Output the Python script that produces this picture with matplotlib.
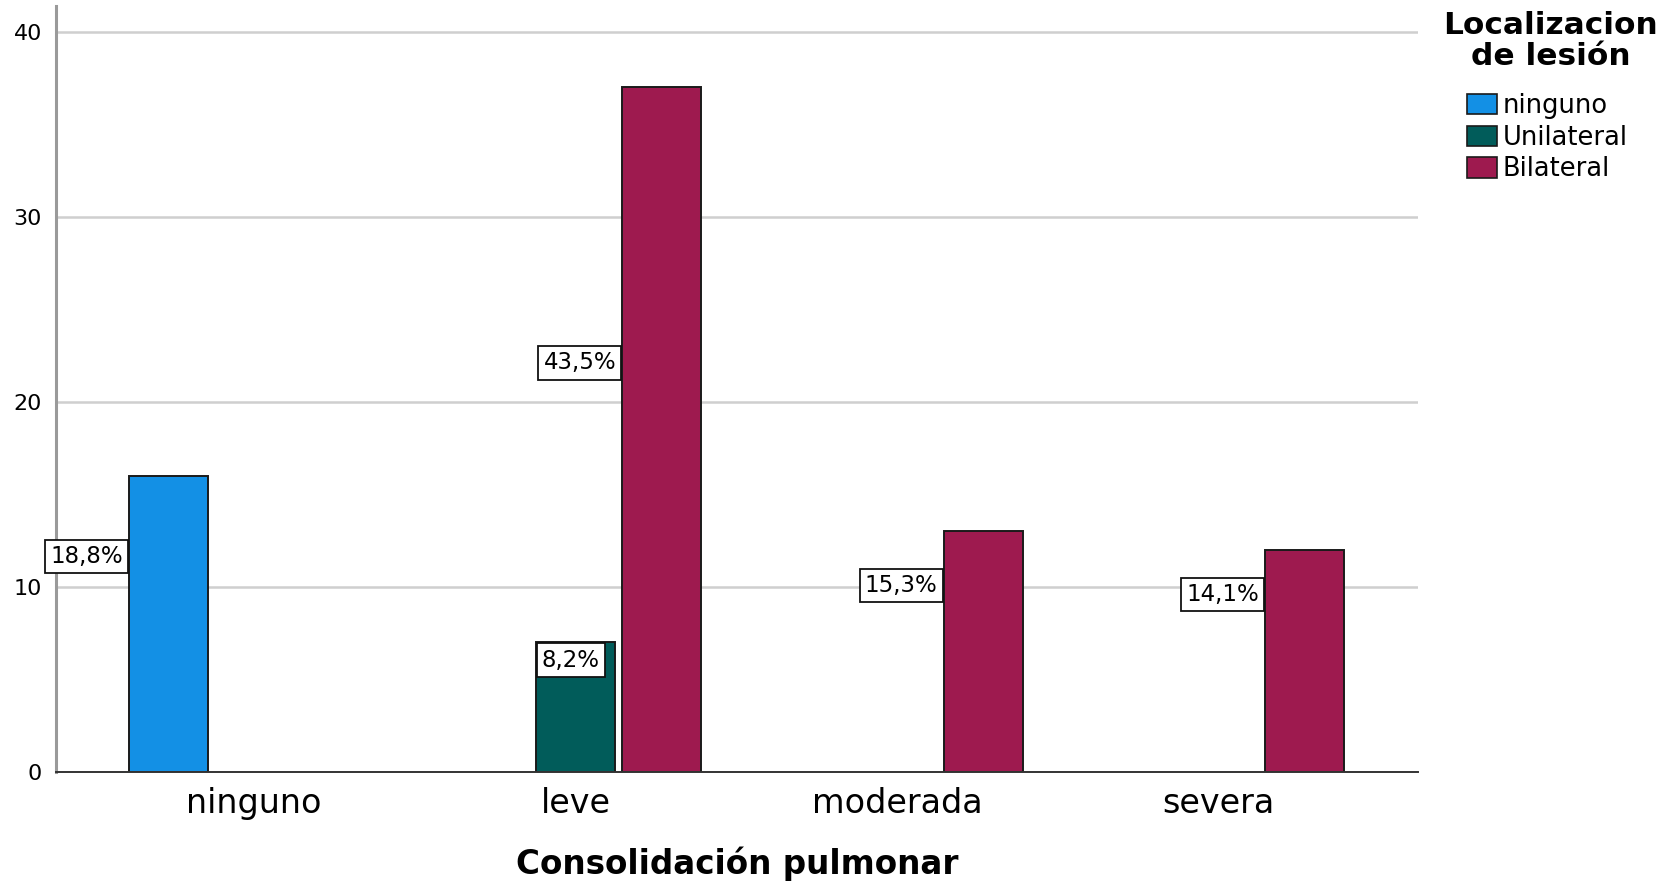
import matplotlib
matplotlib.use("Agg")
import matplotlib.pyplot as plt
from matplotlib.patches import Patch

# Data: counts per pulmonary consolidation grade and lesion location
categories = ["ninguno", "leve", "moderada", "severa"]
series = ["ninguno", "Unilateral", "Bilateral"]
counts = {
    "ninguno":    [16, 0, 0, 0],
    "Unilateral": [0, 7, 0, 0],
    "Bilateral":  [0, 37, 13, 12],
}
y_ticks = [0, 10, 20, 30, 40]
legend_title = ["Localizacion", "de lesión"]

# Styling
colors = {"ninguno": "#1390E5", "Unilateral": "#015C5A", "Bilateral": "#9E1A4F"}
bar_width = 0.2456
slot = 0.267
offsets = {"ninguno": -slot, "Unilateral": 0.0, "Bilateral": slot}

# Where each percentage label sits (height in data units, side of the bar)
label_layout = {
    ("ninguno", 0): (11.66, "right"),
    ("Unilateral", 1): (6.04, "left"),
    ("Bilateral", 1): (22.1, "right"),
    ("Bilateral", 2): (10.06, "right"),
    ("Bilateral", 3): (9.6, "right"),
}

total = sum(sum(v) for v in counts.values())

W, H = 1672, 883
fig = plt.figure(figsize=(W / 100, H / 100), dpi=100)
ax = fig.add_axes([0.0335, 0.126, 0.8145, 0.8672])

lbl_fs = 16.5
pad_frac = 0.22
for s in series:
    for i, v in enumerate(counts[s]):
        if v <= 0:
            continue
        x = i + offsets[s]
        ax.bar(x, v, width=bar_width, color=colors[s], edgecolor="#1a1a1a",
               linewidth=1.4, zorder=3)
        yl, side = label_layout[(s, i)]
        pct = f"{v / total * 100:.1f}%".replace(".", ",")
        pad_pt = pad_frac * lbl_fs
        left_edge = x - bar_width / 2
        if side == "right":
            dx, ha = -pad_pt - 0.6, "right"
        else:
            dx, ha = pad_pt + 0.6, "left"
        ax.annotate(pct, xy=(left_edge, yl), xytext=(dx, 0),
                    textcoords="offset points", ha=ha, va="center",
                    fontsize=lbl_fs, color="black", zorder=5,
                    bbox=dict(boxstyle=f"square,pad={pad_frac}", fc="white",
                              ec="#111111", lw=1.3))

ax.set_xlim(-0.6155, 3.619)
ax.set_ylim(0, 41.4)
ax.set_xticks(range(len(categories)))
ax.set_xticklabels(categories, fontsize=24)
ax.set_yticks(y_ticks)
ax.set_yticklabels([str(t) for t in y_ticks], fontsize=16)
ax.tick_params(axis="both", length=0)
ax.tick_params(axis="x", pad=11)
ax.tick_params(axis="y", pad=10)

ax.yaxis.grid(True, color="#cfcfcf", linewidth=1.8, zorder=0)
ax.set_axisbelow(True)
for side in ("top", "right"):
    ax.spines[side].set_visible(False)
ax.spines["left"].set_color("#9a9a9a")
ax.spines["left"].set_linewidth(2.2)
ax.spines["bottom"].set_color("#333333")
ax.spines["bottom"].set_linewidth(1.4)
ax.spines["bottom"].set_zorder(4)

ax.set_xlabel("Consolidación pulmonar", fontsize=23.5, fontweight="bold",
              labelpad=19)

# Legend title, two centred bold lines
title_cx = 1551 / W
for line, base_px in zip(legend_title, (34, 65)):
    fig.text(title_cx, 1 - base_px / H, line, ha="center", va="baseline",
             fontsize=22.5, fontweight="bold")

handles = [Patch(facecolor=colors[s], edgecolor="#1a1a1a", linewidth=1.2)
           for s in series]
leg = fig.legend(handles, series, loc="upper left",
                 bbox_to_anchor=(1467 / W, 1 - 93 / H),
                 fontsize=18.5, frameon=False,
                 handlelength=1.15, handleheight=0.85, handletextpad=0.25,
                 labelspacing=0.22, borderaxespad=0.0, borderpad=0.0)

fig.savefig("out.png", dpi=100)
